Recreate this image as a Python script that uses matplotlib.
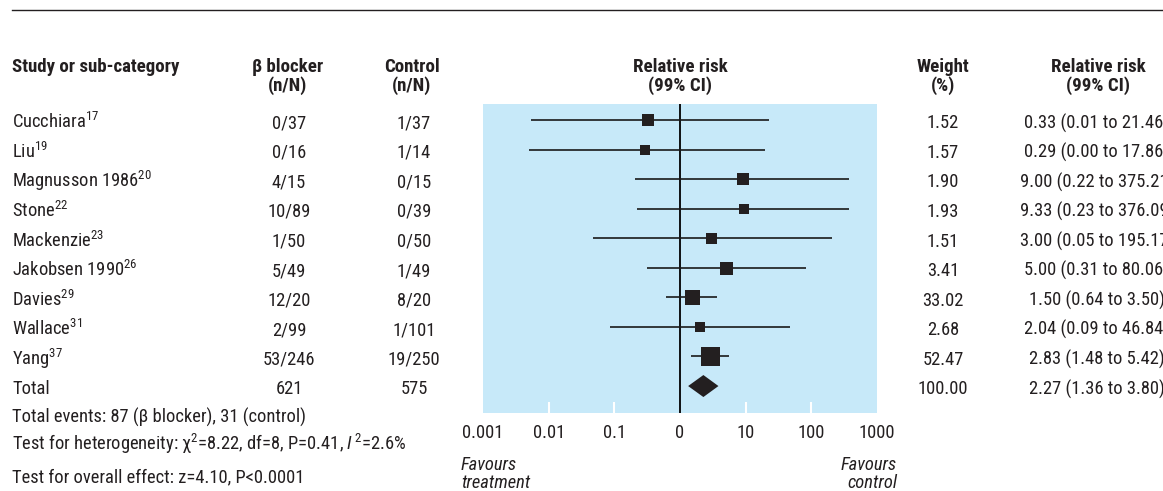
import matplotlib
matplotlib.use("Agg")
import matplotlib.pyplot as plt

# table columns
studies = ["Cucchiara", "Liu", "Magnusson 1986", "Stone", "Mackenzie",
           "Jakobsen 1990", "Davies", "Wallace", "Yang"]
refs = ["17", "19", "20", "22", "23", "26", "29", "31", "37"]
bb_events = ["0/37", "0/16", "4/15", "10/89", "1/50", "5/49", "12/20", "2/99", "53/246"]
ctrl_events = ["1/37", "1/14", "0/15", "0/39", "0/50", "1/49", "8/20", "1/101", "19/250"]
weights = [1.52, 1.57, 1.90, 1.93, 1.51, 3.41, 33.02, 2.68, 52.47]
rr_text = ["0.33 (0.01 to 21.46)", "0.29 (0.00 to 17.86)", "9.00 (0.22 to 375.21)",
           "9.33 (0.23 to 376.09)", "3.00 (0.05 to 195.17)", "5.00 (0.31 to 80.06)",
           "1.50 (0.64 to 3.50)", "2.04 (0.09 to 46.84)", "2.83 (1.48 to 5.42)"]

# plotted relative risks and 99% CI
rr = [0.33, 0.29, 9.00, 9.33, 3.00, 5.00, 1.50, 2.04, 2.83]
ci_lo = [0.0053, 0.0051, 0.21, 0.22, 0.047, 0.31, 0.62, 0.085, 1.46]
ci_hi = [22.5, 19.5, 380, 378, 205, 84, 3.6, 48, 5.5]
total_rr, total_lo, total_hi = 2.27, 1.33, 3.85
total_n = ["621", "575"]
total_weight = "100.00"
total_text = "2.27 (1.36 to 3.80)"

tick_vals = [0.001, 0.01, 0.1, 1, 10, 100, 1000]
tick_labels = ["0.001", "0.01", "0.1", "0", "10", "100", "1000"]

# box sizes in px (style)
box_px = [12, 10, 12, 10, 11, 13, 15, 10, 19]

FONT = "Roboto Condensed"
plt.rcParams["font.family"] = [FONT, "DejaVu Sans"]
plt.rcParams["mathtext.fontset"] = "custom"
plt.rcParams["mathtext.rm"] = FONT
plt.rcParams["mathtext.it"] = FONT + ":italic"
plt.rcParams["mathtext.bf"] = FONT + ":bold"

INK = "#231f20"
BLUE = "#c7e9f9"
FS = 13.3

W, H = 1163, 491
fig = plt.figure(figsize=(W / 100, H / 100), dpi=100)

# overlay axes in pixel coordinates for the table text
tx = fig.add_axes([0, 0, 1, 1])
tx.set_xlim(0, W)
tx.set_ylim(H, 0)
tx.axis("off")

tx.plot([12, W], [10, 10], color=INK, lw=1.0)

# headers
hdr = dict(fontsize=13.6, fontweight="bold", color=INK)
tx.text(12, 72, "Study or sub-category", ha="left", va="baseline", **hdr)
for x, l1 in [(288, "β blocker"), (412, "Control"), (680, "Relative risk"),
              (943, "Weight"), (1098, "Relative risk")]:
    tx.text(x, 72, l1, ha="center", va="baseline", **hdr)
for x, l2 in [(288, "(n/N)"), (412, "(n/N)"), (680, "(99% CI)"),
              (943, "(%)"), (1098, "(99% CI)")]:
    tx.text(x, 91, l2, ha="center", va="baseline", **hdr)

row0, step = 128.3, 29.56
txt = dict(fontsize=FS, color=INK, va="baseline")
for i in range(len(studies)):
    yb = row0 + step * i
    tx.text(12, yb, studies[i] + r"$^{\mathrm{" + refs[i] + "}}$", ha="left", **txt)
    tx.text(289, yb, bb_events[i], ha="center", **txt)
    tx.text(414, yb, ctrl_events[i], ha="center", **txt)
    tx.text(943, yb, f"{weights[i]:.2f}", ha="center", **txt)
    tx.text(1097, yb, rr_text[i], ha="center", **txt)

yb = row0 + step * 9
tx.text(12, yb, "Total", ha="left", **txt)
tx.text(289, yb, total_n[0], ha="center", **txt)
tx.text(414, yb, total_n[1], ha="center", **txt)
tx.text(943, yb, total_weight, ha="center", **txt)
tx.text(1097, yb, total_text, ha="center", **txt)

tx.text(12, 423, "Total events: 87 (β blocker), 31 (control)", ha="left", **txt)
tx.text(12, 450.5, r"Test for heterogeneity: χ$^{\mathrm{2}}$=8.22, df=8, P=0.41, $\mathit{I}^{\,\mathrm{2}}$=2.6%",
        ha="left", **txt)
tx.text(12, 482, "Test for overall effect: z=4.10, P<0.0001", ha="left", **txt)

it = dict(fontsize=FS, color=INK, style="italic", va="baseline")
tx.text(461, 470.5, "Favours", ha="left", **it)
tx.text(461, 488, "treatment", ha="left", **it)
tx.text(897, 470.5, "Favours", ha="right", **it)
tx.text(897, 488, "control", ha="right", **it)

# forest panel
px0, px1, py0, py1 = 483, 877, 104, 413
ax = fig.add_axes([px0 / W, (H - py1) / H, (px1 - px0) / W, (py1 - py0) / H])
ax.set_facecolor(BLUE)
ax.set_xscale("log")
ax.set_xlim(1e-3, 1e3)
ytop = (py0 - 120) / step
ybot = (py1 - 120) / step
ax.set_ylim(ybot, ytop)
for s in ax.spines.values():
    s.set_visible(False)
ax.set_yticks([])
ax.set_xticks(tick_vals)
ax.set_xticklabels(tick_labels)
ax.minorticks_off()
ax.tick_params(axis="x", length=0, pad=8, labelsize=FS, colors=INK)

ax.axvline(1, color="black", lw=1.3, zorder=2)
for v in [0.01, 0.1, 10, 100]:
    ax.vlines(v, ybot - 11 / step, ybot, color="white", lw=1.5, zorder=2)

for i in range(len(studies)):
    ax.hlines(i, ci_lo[i], ci_hi[i], color="#1a1a1a", lw=1.2, zorder=3)
    ax.plot(rr[i], i, "s", color=INK, ms=box_px[i] * 0.72, mew=0, zorder=4)

h = 11 / step
ax.fill([total_lo, total_rr, total_hi, total_rr], [9, 9 - h, 9, 9 + h],
        color=INK, lw=0, zorder=4)

fig.savefig("out.png", dpi=100)
